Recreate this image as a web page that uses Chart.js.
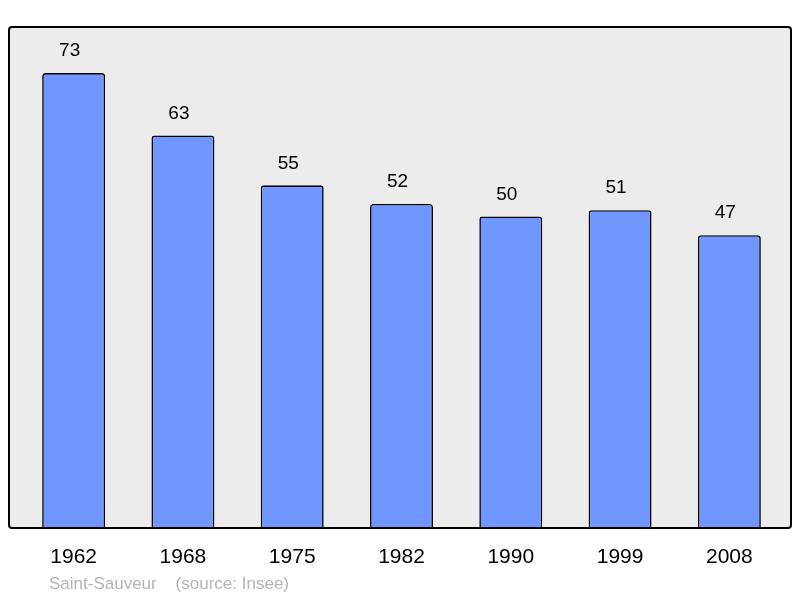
<!DOCTYPE html>
<html>
<head>
<meta charset="utf-8">
<script src="https://cdn.jsdelivr.net/npm/chart.js@4"></script>
<style>
  html, body { margin: 0; padding: 0; background: #fff; }
  #wrap { width: 800px; height: 598px; }
</style>
</head>
<body>
<div id="wrap"><canvas id="chart"></canvas></div>
<script>
const years = ["1962", "1968", "1975", "1982", "1990", "1999", "2008"];
const population = [73, 63, 55, 52, 50, 51, 47];
const footer = "Saint-Sauveur    (source: Insee)";

// gray panel with a rounded black border around the plot
const frame = {
	id: "frame",
	beforeDatasetsDraw(chart) {
		const a = chart.chartArea;
		const ctx = chart.ctx;
		ctx.save();
		ctx.beginPath();
		ctx.roundRect(a.left - 10, a.top, a.width + 17, a.height, 3);
		ctx.fillStyle = "#ececec";
		ctx.fill();
		ctx.restore();
	},
	afterDatasetsDraw(chart) {
		const a = chart.chartArea;
		const ctx = chart.ctx;
		ctx.save();
		ctx.beginPath();
		ctx.roundRect(a.left - 10, a.top, a.width + 17, a.height, 3);
		ctx.lineWidth = 2;
		ctx.strokeStyle = "#000";
		ctx.stroke();

		// values above the bars
		const meta = chart.getDatasetMeta(0);
		ctx.fillStyle = "#000";
		ctx.font = "19px 'Liberation Sans', Arial, sans-serif";
		ctx.textAlign = "center";
		ctx.textBaseline = "middle";
		meta.data.forEach((bar, i) => {
			ctx.fillText(String(population[i]), bar.x - 4, bar.y - 22);
		});

		// footer line
		ctx.fillStyle = "#b4b4b4";
		ctx.font = "17px 'Liberation Sans', Arial, sans-serif";
		ctx.textAlign = "left";
		ctx.fillText(footer, a.left + 30, 584);
		ctx.restore();
	},
};

new Chart(document.getElementById("chart"), {
	type: "bar",
	data: {
		labels: years,
		datasets: [
			{
				data: population,
				backgroundColor: "#7097ff",
				borderColor: "#000",
				borderWidth: 1.6,
				borderRadius: 3,
				borderSkipped: "bottom",
				categoryPercentage: 1,
				barPercentage: 0.576,
			},
		],
	},
	options: {
		responsive: true,
		maintainAspectRatio: false,
		animation: false,
		layout: { padding: { left: 19, right: 16, top: 27, bottom: 0 } },
		plugins: {
			legend: { display: false },
			tooltip: { enabled: false },
		},
		scales: {
			x: {
				grid: { display: false, drawTicks: false },
				border: { display: false },
				ticks: {
					color: "#000",
					padding: 17,
					font: { family: "'Liberation Sans', Arial, sans-serif", size: 21 },
				},
				afterFit(scale) { scale.height = 70; },
			},
			y: {
				display: false,
				min: 0,
				max: 80.4,
			},
		},
	},
	plugins: [frame],
});
</script>
</body>
</html>
